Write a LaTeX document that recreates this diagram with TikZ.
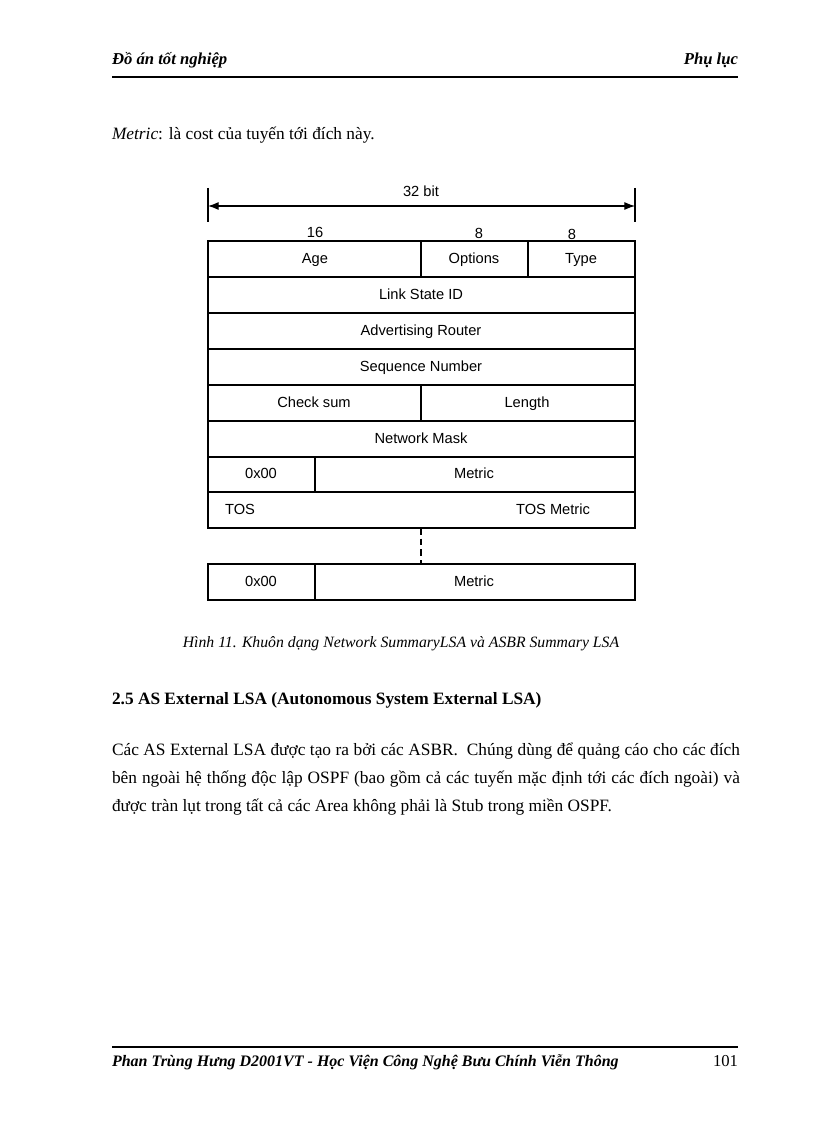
\documentclass[tikz,border=0pt]{standalone}
\usepackage{fontspec}
\setmainfont{Liberation Serif}
\newfontfamily\arialfont{Liberation Sans}
\usetikzlibrary{arrows.meta}

\begin{document}
\begin{tikzpicture}[x=0.75pt, y=-0.75pt, every node/.style={inner sep=0pt, outer sep=0pt}]
\tikzset{
  hdr/.style={font=\fontsize{12.5}{15}\selectfont\bfseries\itshape},
  body/.style={font=\fontsize{13}{21}\selectfont, anchor=base west},
  field/.style={font=\arialfont\fontsize{11}{13}\selectfont, text height=1.6ex, text depth=0ex},
  frame/.style={line width=1.3pt}
}
\useasboundingbox (0,0) rectangle (816,1123);
% page head
\node[hdr, anchor=base west] (headL) at (112,65) {Đồ án tốt nghiệp};
\node[hdr, anchor=base east] (headR) at (738,65) {Phụ lục};
\draw[line width=1.6pt] (112,77) -- (738,77);
\node[body] (intro) at (112,140) {\textit{Metric}: là cost của tuyến tới đích này.};
% packet format
\coordinate (L) at (208,206);
\coordinate (R) at (635,206);
\draw[frame] (208,188) -- (208,222);
\draw[frame] (635,188) -- (635,222);
\draw[{Latex[length=8pt,width=6pt]}-{Latex[length=8pt,width=6pt]}, line width=0.8pt] (L) -- (R);
\node[field] (width) at (421,192) {32 bit};
\node[field] (w16) at (315,233) {16};
\node[field] (w8a) at (479,234) {8};
\node[field] (w8b) at (572,235) {8};
\draw[frame] (208,241) rectangle (635,528);
\foreach \y in {277,313,349,385,421,457,492}
  \draw[frame] (208,\y) -- (635,\y);
\draw[frame] (421,241) -- (421,277);
\draw[frame] (528,241) -- (528,277);
\draw[frame] (421,385) -- (421,421);
\draw[frame] (315,457) -- (315,492);
\draw[frame] (208,564) rectangle (635,600);
\draw[frame] (315,564) -- (315,600);
\coordinate (gapT) at (421,528);
\coordinate (gapB) at (421,564);
\draw[frame, dash pattern=on 5pt off 3pt] (gapT) -- (gapB);
\node[field] (age) at (315,259) {Age};
\node[field] (opts) at (474,259) {Options};
\node[field] (type) at (581,259) {Type};
\node[field] (lsid) at (421,295) {Link State ID};
\node[field] (adv) at (421,331) {Advertising Router};
\node[field] (seq) at (421,367) {Sequence Number};
\node[field] (csum) at (314,403) {Check sum};
\node[field] (len) at (527,403) {Length};
\node[field] (mask) at (421,439) {Network Mask};
\node[field] (zeroA) at (261,474) {0x00};
\node[field] (metA) at (474,474) {Metric};
\node[field] (tos) at (240,510) {TOS};
\node[field] (tosm) at (553,510) {TOS Metric};
\node[field] (zeroB) at (261,582) {0x00};
\node[field] (metB) at (474,582) {Metric};
% caption and text
\node[font=\fontsize{11.8}{15}\selectfont\itshape, anchor=base] (cap) at (401,647) {Hình 11. Khuôn dạng Network SummaryLSA và ASBR Summary LSA};
\node[font=\fontsize{13}{15}\selectfont\bfseries, anchor=base west] (sec) at (112,704) {2.5 AS External LSA (Autonomous System External LSA)};
\node[body] (par1) at (112,755) {\makebox[471pt][s]{Các AS External LSA được tạo ra bởi các ASBR.\ \ Chúng dùng để quảng cáo cho các đích}};
\node[body] (par2) at (112,783) {\makebox[471pt][s]{bên ngoài hệ thống độc lập OSPF (bao gồm cả các tuyến mặc định tới các đích ngoài) và}};
\node[body] (par3) at (112,811) {được tràn lụt trong tất cả các Area không phải là Stub trong miền OSPF.};
% page foot
\draw[line width=1.6pt] (112,1047) -- (738,1047);
\node[font=\fontsize{12}{15}\selectfont\bfseries\itshape, anchor=base west] (footL) at (112,1066) {Phan Trùng Hưng D2001VT - Học Viện Công Nghệ Bưu Chính Viễn Thông};
\node[font=\fontsize{12.5}{15}\selectfont, anchor=base east] (page) at (738,1066) {101};
\end{tikzpicture}
\end{document}
